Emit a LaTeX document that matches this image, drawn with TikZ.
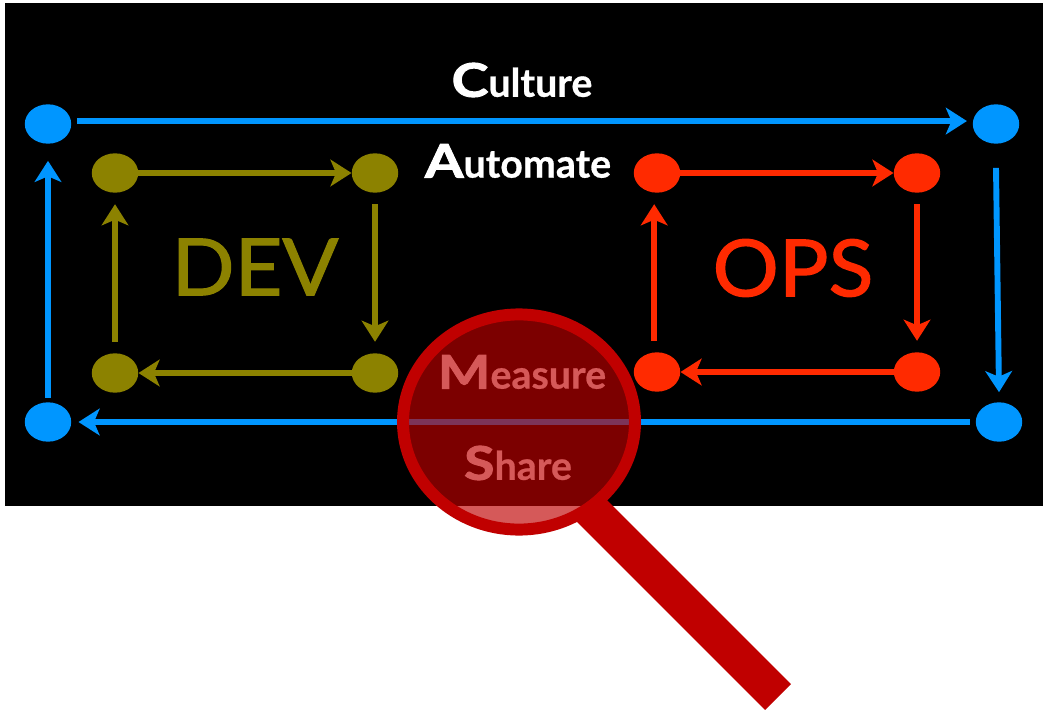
\documentclass[tikz,border=0pt]{standalone}
\usepackage{fontspec}
\setmainfont{Lato}
\usetikzlibrary{arrows.meta,shapes.geometric}
\definecolor{cultureblue}{HTML}{0096FF}
\definecolor{devolive}{HTML}{8C8200}
\definecolor{opsred}{HTML}{FF2A00}
\definecolor{lensred}{HTML}{C00000}
\newcommand{\stepword}[2]{\textbf{{\fontsize{33}{33}\selectfont\addfontfeature{FakeBold=2,FakeStretch=1.2}#1}{\fontsize{28}{28}\selectfont\addfontfeature{FakeBold=0.6}#2}}}
\tikzset{
    dot/.style={ellipse, fill=#1, inner sep=0pt, minimum width=33pt, minimum height=28pt},
    flow/.style={draw=#1, line width=4.2pt, -{Stealth[length=15pt,width=19pt,inset=4pt]}},
    stepname/.style={text=white},
    team/.style={font=\fontsize{56}{56}\selectfont\addfontfeature{FakeBold=1.5,FakeStretch=1.05}, text=#1}
}
\begin{document}
\begin{tikzpicture}[x=0.025cm,y=-0.025cm]
    \useasboundingbox (0,0) rectangle (1043,709);
    \fill[white] (0,0) rectangle (1043,709);
    \node[fill=black, inner sep=0pt, minimum width=26.95cm, minimum height=12.575cm, anchor=north west] (slide) at (5,3) {};

    \foreach \n/\x/\y in {culA/48/124,culB/996/124,culC/999/422,culD/48/422}{
    \node[dot=cultureblue] (\n) at (\x,\y) {};
}
    \foreach \n/\x/\y in {devA/115/173,devB/375/173,devC/375/373,devD/115/373}{
    \node[dot=devolive] (\n) at (\x,\y) {};
}
    \foreach \n/\x/\y in {opsA/657/173,opsB/917/173,opsC/917/372,opsD/657/372}{
    \node[dot=opsred] (\n) at (\x,\y) {};
}

    \draw[flow=cultureblue] ([yshift=2.1pt,xshift=4pt]culA.east) -- ([yshift=2.1pt,xshift=-4pt]culB.west);
    \draw[flow=cultureblue] ([yshift=-17pt]culB.south) -- ([yshift=7pt]culC.north);
    \draw[flow=cultureblue] ([xshift=-4pt]culC.west) -- ([xshift=5pt]culD.east);
    \draw[flow=cultureblue] ([yshift=3pt]culD.north) -- ([yshift=-12pt]culA.south);

    \foreach \a/\b in {A/B,C/D}{
    \draw[flow=devolive] (dev\a) -- (dev\b);
    \draw[flow=opsred] (ops\a) -- (ops\b);
}
    \draw[flow=devolive] ([yshift=-8pt]devB.south) -- ([yshift=8pt]devC.north);
    \draw[flow=devolive] ([yshift=8pt]devD.north) -- ([yshift=-8pt]devA.south);
    \draw[flow=opsred] ([yshift=-8pt]opsB.south) -- ([yshift=8pt]opsC.north);
    \draw[flow=opsred] ([yshift=8pt,xshift=-2pt]opsD.north) -- ([yshift=-8pt,xshift=-2pt]opsA.south);

    \node[team=devolive] (dev) at (255,267) {DEV};
    \node[team=opsred] (ops) at (793,268) {OPS};

    \node[stepname] (culture) at (522,80) {\stepword{C}{ulture}};
    \node[stepname] (automate) at (518,161) {\stepword{A}{utomate}};
    \node[stepname] (measure) at (522,372) {\stepword{M}{easure}};
    \node[stepname] (share) at (518,463) {\stepword{S}{hare}};

    % magnifying glass
    \coordinate (hilt) at (588,507);
    \coordinate (grip) at (778,697);
    \draw[lensred, line width=26pt] (hilt) -- (grip);
    \node[ellipse, inner sep=0pt, minimum width=165pt, minimum height=153pt, line width=8.5pt,
        draw=lensred, fill=lensred, fill opacity=.65, draw opacity=1] (lens) at (519,422) {};
\end{tikzpicture}
\end{document}
